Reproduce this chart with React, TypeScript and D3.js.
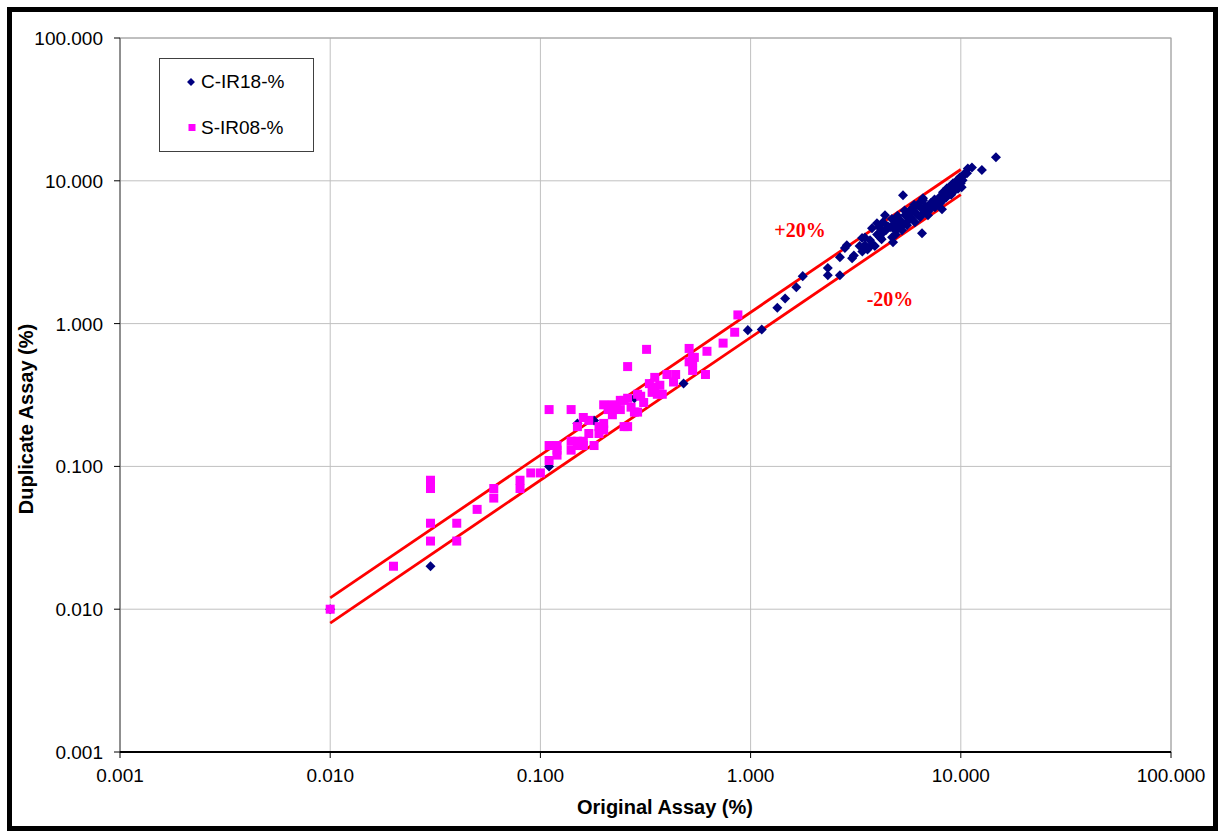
import React from "react";
import * as d3 from "d3";

const W = 1220;
const H = 833;

const xTicks = [0.001, 0.01, 0.1, 1, 10, 100];
const yTicks = [0.001, 0.01, 0.1, 1, 10, 100];
const seriesNames = ["C-IR18-%", "S-IR08-%"];
const bandFactors = [1.2, 0.8];
const bandRange = [0.01, 10];

// C-IR18-% : [original, duplicate]
const cir18: [number, number][] = [
  [0.01, 0.01], [0.03, 0.02], [0.11, 0.1], [0.15, 0.2], [0.18, 0.21], [0.28, 0.3], [0.48, 0.38],
  [0.97, 0.9], [1.13, 0.91], [1.34, 1.29], [1.46, 1.5], [1.65, 1.8], [1.77, 2.15],
  [2.33, 2.45], [2.33, 2.18], [2.66, 2.18], [2.66, 2.92], [3.04, 2.87], [2.81, 3.38], [2.87, 3.54],
  [3.39, 3.97], [3.5, 3.54], [3.62, 3.38], [3.7, 3.84], [3.78, 4.66], [3.99, 5.05], [4.13, 4.03],
  [4.36, 5.74], [4.26, 5.13], [4.61, 4.73], [4.71, 4.03], [4.76, 3.72], [4.86, 5.05], [5.14, 5.3],
  [5.25, 4.51], [5.31, 7.93], [5.43, 5.74], [5.55, 4.89], [5.73, 6.23], [6.05, 6.03], [6.05, 5.13],
  [6.26, 6.75], [6.4, 5.56], [6.54, 4.3], [6.61, 7.31], [6.91, 6.23], [6.98, 5.74], [7.54, 6.54],
  [7.71, 7.08], [7.96, 6.96], [8.14, 6.32], [8.23, 8.32], [8.6, 8.87], [8.89, 8.18], [9.18, 9.62],
  [9.38, 8.59], [9.6, 10.1], [9.91, 10.6], [10.1, 9.02], [10.2, 10.1], [10.7, 11.3], [10.8, 12.2],
  [11.3, 12.4], [12.6, 11.9], [14.7, 14.6], [6.61, 7.55], [7.13, 6.41], [8.89, 9.1], [9.2, 9.0],
  [3.3, 3.5], [3.6, 3.3], [3.8, 3.6], [4.0, 4.2], [4.2, 3.9], [4.5, 4.8], [4.9, 4.2], [5.0, 4.6],
  [5.2, 5.0], [5.6, 5.2], [5.8, 5.5], [6.2, 5.8], [6.5, 6.4], [6.8, 6.6], [7.2, 7.0], [7.5, 7.4],
  [8.0, 7.8], [8.4, 8.3], [8.8, 9.0], [9.1, 9.3], [9.5, 9.8], [9.8, 9.5], [10.3, 10.9], [10.5, 11.4],
  [9.0, 8.0], [8.5, 7.6], [6.0, 6.8], [5.4, 6.2], [4.4, 4.5], [4.1, 4.7], [3.5, 4.0], [5.9, 6.4],
  [7.0, 6.1], [8.2, 7.3], [9.7, 8.8], [10.0, 9.6], [3.1, 3.0], [4.7, 5.4], [5.0, 5.7], [6.3, 6.9],
  [3.4, 3.2], [3.9, 3.5], [4.3, 4.4], [4.8, 4.6], [5.3, 4.9], [5.7, 5.9], [6.7, 6.0], [7.4, 6.6],
];

// S-IR08-% : [original, duplicate]
const sir08: [number, number][] = [
  [0.01, 0.01], [0.02, 0.02], [0.03, 0.08], [0.03, 0.07], [0.03, 0.04], [0.03, 0.03], [0.04, 0.04],
  [0.04, 0.03], [0.05, 0.05], [0.06, 0.07], [0.06, 0.06], [0.08, 0.08], [0.08, 0.07], [0.09, 0.09],
  [0.1, 0.09], [0.11, 0.25], [0.14, 0.25], [0.11, 0.14], [0.12, 0.14], [0.12, 0.12], [0.11, 0.11],
  [0.14, 0.15], [0.14, 0.13], [0.16, 0.15], [0.16, 0.22], [0.17, 0.21], [0.15, 0.19], [0.17, 0.17],
  [0.18, 0.14], [0.19, 0.17], [0.19, 0.19], [0.2, 0.2], [0.2, 0.27], [0.21, 0.25], [0.22, 0.23],
  [0.24, 0.29], [0.23, 0.26], [0.25, 0.29], [0.26, 0.3], [0.25, 0.19], [0.26, 0.19], [0.26, 0.5],
  [0.27, 0.26], [0.28, 0.24], [0.29, 0.24], [0.29, 0.32], [0.31, 0.28], [0.3, 0.31], [0.32, 0.66],
  [0.33, 0.38], [0.35, 0.42], [0.34, 0.33], [0.35, 0.36], [0.37, 0.37], [0.36, 0.32], [0.38, 0.32],
  [0.4, 0.44], [0.44, 0.44], [0.43, 0.39], [0.51, 0.67], [0.53, 0.58], [0.53, 0.54], [0.51, 0.54],
  [0.53, 0.47], [0.54, 0.58], [0.62, 0.64], [0.61, 0.44], [0.74, 0.73], [0.84, 0.87], [0.87, 1.15],
  [0.12, 0.13], [0.15, 0.14], [0.16, 0.14], [0.22, 0.27], [0.24, 0.25], [0.15, 0.15], [0.2, 0.18],
];

const colors = ["#000080", "#ff00ff"];

export default function App() {
  const x = d3.scaleLog().domain([0.001, 100]).range([120, 1171]);
  const y = d3.scaleLog().domain([0.001, 100]).range([752, 38]);
  const fmt = d3.format(".3f");
  const font = "'Liberation Sans', Arial, sans-serif";
  const diamond = d3.symbol().type(d3.symbolDiamond2).size(64)();
  const band = (f: number) =>
    d3.line<number>().x((d) => x(d)).y((d) => y(d * f))(bandRange) || "";
  const [x0, x1] = x.range();
  const [y0, y1] = y.range();
  const sq = 9;

  return (
    <svg
      width={W}
      height={H}
      style={{ position: "absolute", left: 0, top: 0, background: "#fff" }}
      fontFamily={font}
    >
      <rect x={0} y={0} width={W} height={H} fill="#fff" />
      <rect x={9.5} y={9.5} width={1206} height={819} fill="#fff" stroke="#000" strokeWidth={5} />

      {/* grid */}
      {xTicks.map((t) => (
        <line key={"gx" + t} x1={x(t)} x2={x(t)} y1={y1} y2={y0} stroke="#c0c0c0" strokeWidth={1} />
      ))}
      {yTicks.map((t) => (
        <line key={"gy" + t} x1={x0} x2={x1} y1={y(t)} y2={y(t)} stroke="#c0c0c0" strokeWidth={1} />
      ))}
      <rect x={x0} y={y1} width={x1 - x0} height={y0 - y1} fill="none" stroke="#a0a0a0" strokeWidth={1} />

      {/* axes */}
      <line x1={x0} x2={x0} y1={y1} y2={y0} stroke="#606060" strokeWidth={1} />
      <line x1={x0} x2={x1} y1={y0} y2={y0} stroke="#000" strokeWidth={2} />
      {yTicks.map((t) => (
        <g key={"yt" + t}>
          <line x1={x0 - 6} x2={x0} y1={y(t)} y2={y(t)} stroke="#000" strokeWidth={1} />
          <text x={x0 - 17} y={y(t) + 7} textAnchor="end" fontSize={19} fill="#000">
            {fmt(t)}
          </text>
        </g>
      ))}
      {xTicks.map((t) => (
        <g key={"xt" + t}>
          <line x1={x(t)} x2={x(t)} y1={y0} y2={y0 + 6} stroke="#000" strokeWidth={1} />
          <text x={x(t)} y={782} textAnchor="middle" fontSize={19} fill="#000">
            {fmt(t)}
          </text>
        </g>
      ))}

      <text x={665} y={814} textAnchor="middle" fontSize={20} fontWeight="bold" fill="#000">
        Original Assay (%)
      </text>
      <text
        transform={`translate(33,419) rotate(-90)`}
        textAnchor="middle"
        fontSize={20}
        fontWeight="bold"
        fill="#000"
      >
        Duplicate Assay (%)
      </text>

      {/* band lines */}
      {bandFactors.map((f) => (
        <path key={"b" + f} d={band(f)} fill="none" stroke="#ff0000" strokeWidth={2.8} />
      ))}

      {/* points */}
      <g fill={colors[0]}>
        {cir18.map(([a, b], i) => (
          <path key={"c" + i} d={diamond} transform={`translate(${x(a)},${y(b)})`} />
        ))}
      </g>
      <g fill={colors[1]}>
        {sir08.map(([a, b], i) => (
          <rect key={"s" + i} x={x(a) - sq / 2} y={y(b) - sq / 2} width={sq} height={sq} />
        ))}
      </g>

      {/* band labels */}
      <text x={800} y={237} textAnchor="middle" fontSize={20} fontWeight="bold" fill="#ff0000"
        fontFamily="'Liberation Serif', 'Times New Roman', serif">+20%</text>
      <text x={890} y={306} textAnchor="middle" fontSize={20} fontWeight="bold" fill="#ff0000"
        fontFamily="'Liberation Serif', 'Times New Roman', serif">-20%</text>

      {/* legend */}
      <rect x={159.5} y={58.5} width={154} height={93} fill="#fff" stroke="#404040" strokeWidth={1} />
      <path d={d3.symbol().type(d3.symbolDiamond2).size(40)()} transform="translate(191,82)" fill={colors[0]} />
      <text x={201} y={88} fontSize={19} fill="#000">{seriesNames[0]}</text>
      <rect x={188.5} y={124} width={7} height={7} fill={colors[1]} />
      <text x={201} y={134} fontSize={19} fill="#000">{seriesNames[1]}</text>
    </svg>
  );
}
